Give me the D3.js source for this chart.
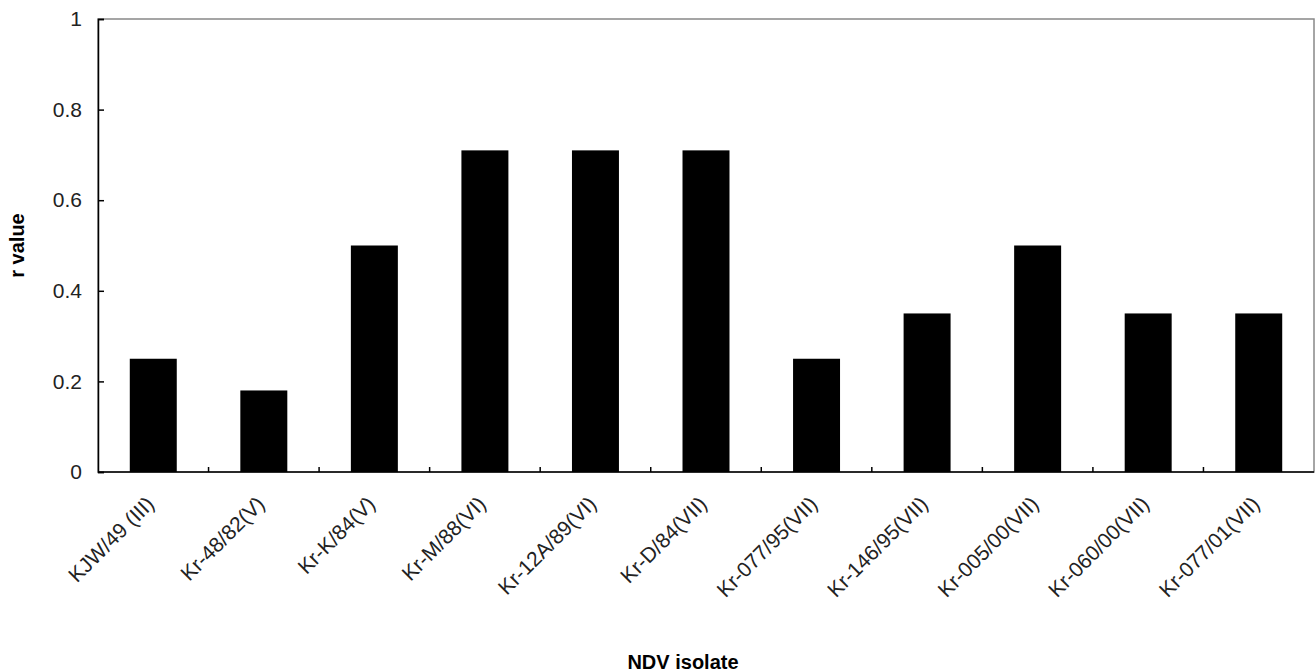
<!DOCTYPE html>
<html>
<head>
<meta charset="utf-8">
<script src="https://cdn.jsdelivr.net/npm/d3@7"></script>
<style>
  body { margin: 0; background: #fff; }
  svg { display: block; font-family: "Liberation Sans", Arial, sans-serif; }
</style>
</head>
<body>
<div id="chart"></div>
<script>
let isolates = ['KJW/49 (III)', 'Kr-48/82(V)', 'Kr-K/84(V)', 'Kr-M/88(VI)', 'Kr-12A/89(VI)',
    'Kr-D/84(VII)', 'Kr-077/95(VII)', 'Kr-146/95(VII)', 'Kr-005/00(VII)', 'Kr-060/00(VII)', 'Kr-077/01(VII)'];
let rValues = [0.25, 0.18, 0.5, 0.71, 0.71, 0.71, 0.25, 0.35, 0.5, 0.35, 0.35];
let yTicks = [0, 0.2, 0.4, 0.6, 0.8, 1];

let width = 1316,
    height = 672,
    margin = {left: 98, top: 19, right: 2, bottom: 200},
    plotW = width - margin.left - margin.right,
    plotH = height - margin.top - margin.bottom;

let svg = d3.select('#chart').append('svg')
    .attr('width', width)
    .attr('height', height);

let g = svg.append('g')
    .attr('transform', `translate(${margin.left}, ${margin.top})`);

let x = d3.scaleBand()
    .domain(isolates)
    .range([0, plotW])
    .paddingInner(0.575)
    .paddingOuter(0.2875);

let y = d3.scaleLinear()
    .domain([0, 1])
    .range([plotH, 0]);

// plot area border (grey top/right)
g.append('rect')
    .attr('x', 0)
    .attr('y', 0)
    .attr('width', plotW)
    .attr('height', plotH)
    .attr('fill', 'none')
    .attr('stroke', '#888')
    .attr('stroke-width', 1.5);

g.selectAll('.bar')
    .data(rValues)
    .join('rect')
    .attr('class', 'bar')
    .attr('x', (d, i) => x(isolates[i]))
    .attr('y', d => y(d))
    .attr('width', x.bandwidth())
    .attr('height', d => plotH - y(d))
    .attr('fill', '#000');

// y axis: ticks point inward
let yAxis = g.append('g')
    .call(d3.axisLeft(y).tickValues(yTicks).tickSize(-6).tickPadding(16)
        .tickFormat(d => d3.format('~g')(d)));
yAxis.select('.domain').attr('stroke', '#000').attr('stroke-width', 1.5);
yAxis.selectAll('.tick line').attr('stroke', '#000').attr('stroke-width', 1.5);
yAxis.selectAll('.tick text')
    .attr('font-size', 21)
    .attr('fill', '#222');

// x axis line + boundary ticks pointing up
let gap = x.step() - x.bandwidth();
let xAxis = g.append('g')
    .attr('transform', `translate(0, ${plotH})`);
xAxis.append('line')
    .attr('x1', 0).attr('x2', plotW)
    .attr('stroke', '#000').attr('stroke-width', 1.5);
xAxis.selectAll('.bound')
    .data(isolates.slice(1))
    .join('line')
    .attr('class', 'bound')
    .attr('x1', d => x(d) - gap / 2)
    .attr('x2', d => x(d) - gap / 2)
    .attr('y1', 0).attr('y2', -5)
    .attr('stroke', '#000').attr('stroke-width', 1.5);

xAxis.selectAll('.lbl')
    .data(isolates)
    .join('text')
    .attr('class', 'lbl')
    .attr('transform', d => `translate(${x(d) + x.bandwidth() / 2 - 3}, 28) rotate(-45)`)
    .attr('text-anchor', 'end')
    .attr('dy', '0.35em')
    .attr('font-size', 21)
    .attr('fill', '#222')
    .text(d => d);

svg.append('text')
    .attr('transform', `translate(24, ${margin.top + plotH / 2}) rotate(-90)`)
    .attr('text-anchor', 'middle')
    .attr('font-size', 20)
    .attr('font-weight', 'bold')
    .text('r value');

svg.append('text')
    .attr('x', 683)
    .attr('y', 669)
    .attr('text-anchor', 'middle')
    .attr('font-size', 20)
    .attr('font-weight', 'bold')
    .text('NDV isolate');
</script>
</body>
</html>
